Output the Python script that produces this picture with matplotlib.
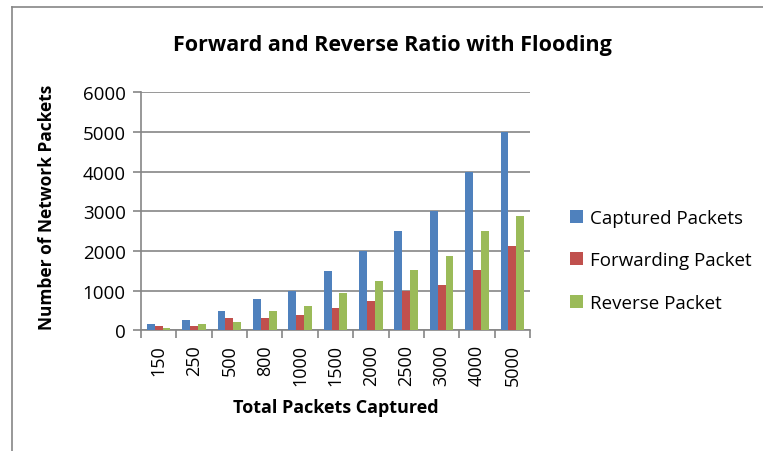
import matplotlib
matplotlib.use("Agg")
import matplotlib.pyplot as plt
import numpy as np
from matplotlib.lines import Line2D

categories = ["150", "250", "500", "800", "1000", "1500", "2000", "2500", "3000", "4000", "5000"]
captured = [150, 250, 500, 800, 1000, 1500, 2000, 2500, 3000, 4000, 5000]
forwarding = [100, 100, 300, 300, 380, 570, 750, 980, 1140, 1520, 2120]
reverse = [50, 150, 200, 500, 620, 940, 1250, 1530, 1870, 2500, 2880]
series_names = ["Captured Packets", "Forwarding Packet", "Reverse Packet"]
colors = ["#4F81BD", "#C0504D", "#9BBB59"]

plt.rcParams['font.family'] = ['Open Sans', 'DejaVu Sans']

W, H = 763, 452
fig = plt.figure(figsize=(W / 100, H / 100), dpi=100)
ax = fig.add_axes([141 / W, 1 - 331.4 / H, (530 - 141) / W, (331.4 - 93.2) / H])

x = np.arange(len(categories))
w = 1 / 4.5
for i, (vals, c, name) in enumerate(zip([captured, forwarding, reverse], colors, series_names)):
    ax.bar(x + (i - 1) * w, vals, width=w, color=c, label=name, zorder=3)

gray = "#868686"
ax.set_xlim(-0.5, len(categories) - 0.5)
ax.set_ylim(0, 6000)
ax.set_yticks(np.arange(0, 6001, 1000))
ax.yaxis.grid(True, color=gray, linewidth=1.2, zorder=0)
for s in ["top", "right"]:
    ax.spines[s].set_visible(False)
for s in ["left", "bottom"]:
    ax.spines[s].set_color(gray)
    ax.spines[s].set_linewidth(1.2)

ax.set_xticks(x)
ax.set_xticklabels(categories, rotation=90, fontsize=13)
ax.tick_params(axis="x", which="major", length=0, pad=10)
ax.set_xticks(np.arange(-0.5, len(categories), 1), minor=True)
ax.tick_params(axis="x", which="minor", length=6, color=gray, width=1.2)
ax.tick_params(axis="y", length=6, color=gray, width=1.2, labelsize=13.5, pad=5)

ax.set_xlabel("Total Packets Captured", fontsize=13, fontweight="bold", labelpad=9)
ax.set_ylabel("Number of Network Packets", fontsize=12.5, fontweight="bold")
ax.yaxis.set_label_coords(-0.218, 0.52)

fig.text(392 / W, 1 - 46 / H, "Forward and Reverse Ratio with Flooding",
         ha="center", va="center", fontsize=15.5, fontweight="bold")

leg = fig.legend(loc="upper left", bbox_to_anchor=(553 / W, 1 - 193 / H), frameon=False,
                 fontsize=13.5, handlelength=0.7, handleheight=0.7, handletextpad=0.35,
                 labelspacing=1.3)

# outer chart border
fig.add_artist(Line2D([11.5 / W, 11.5 / W], [0, 1 - 7.5 / H], transform=fig.transFigure,
                      color=gray, linewidth=1.2))
fig.add_artist(Line2D([11.5 / W, 1], [1 - 7.5 / H, 1 - 7.5 / H], transform=fig.transFigure,
                      color=gray, linewidth=1.2))

fig.savefig("out.png", dpi=100)
